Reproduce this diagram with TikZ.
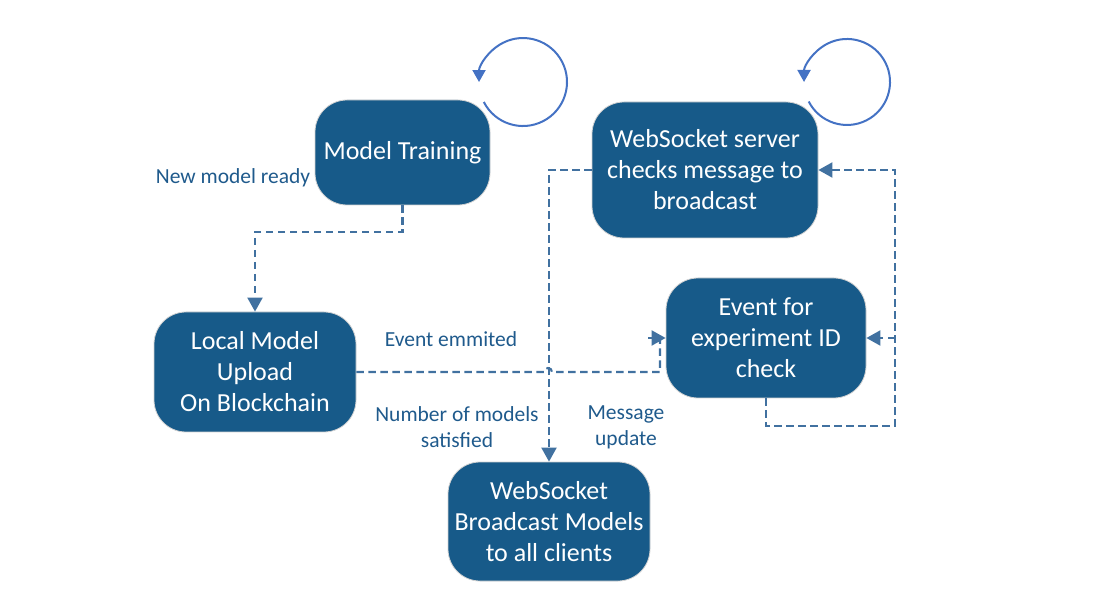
\documentclass[tikz,border=0pt]{standalone}
\usepackage{fontspec}
\setmainfont{Carlito}
\usetikzlibrary{arrows.meta}
\definecolor{boxfill}{RGB}{23,90,137}
\definecolor{labcol}{RGB}{31,90,140}
\definecolor{dashcol}{RGB}{65,113,160}
\definecolor{loopcol}{RGB}{68,114,196}
\tikzset{
  statebox/.style={rectangle, rounded corners=32pt, fill=boxfill, draw=gray!35, line width=0.8pt,
    text=white, align=center, inner sep=0pt, font=\fontsize{26}{31}\selectfont},
  lab/.style={text=labcol, align=center, inner sep=0pt, font=\fontsize{21.5}{26}\selectfont},
  conn/.style={draw=dashcol, line width=2.1pt, dash pattern=on 7.5pt off 4.5pt},
  tip/.style={-{Triangle[length=14pt,width=15pt]}},
  selfloop/.style={draw=loopcol, line width=2pt, -{Triangle[length=12pt,width=13pt]}}
}
\begin{document}
\begin{tikzpicture}[x=1pt,y=1pt]
\useasboundingbox (0,0) rectangle (1097,608);
% nodes
\node[statebox, minimum width=175pt, minimum height=105pt] (train) at (402.5,455.5) {Model Training};
\node[statebox, minimum width=226pt, minimum height=136pt] (server) at (705,438) {WebSocket server\\checks message to\\broadcast};
\node[statebox, minimum width=202pt, minimum height=120pt] (local) at (255,236) {Local Model\\Upload\\On Blockchain};
\node[statebox, minimum width=200pt, minimum height=120pt] (event) at (766,270) {Event for\\experiment ID\\check};
\node[statebox, minimum width=202pt, minimum height=119pt] (bcast) at (549,86.5) {WebSocket\\Broadcast Models\\to all clients};
% labels
\node[lab] (l1) at (233,430) {New model ready};
\node[lab] (l2) at (451,269) {Event emmited};
\node[lab] (l3) at (457,181) {Number of models\\satisfied};
\node[lab] (l4) at (626,181) {Message\\update};
% self loops
\coordinate (ls) at (483.8,506);
\coordinate (rs) at (808.7,506.5);
\draw[selfloop] (ls) arc[start angle=207, end angle=540, radius=44];
\draw[selfloop] (rs) arc[start angle=207, end angle=540, radius=43];
% connectors
\draw[conn, tip] (train.south) -- (402.5,376) -| (local.north);
\coordinate (hopa) at (544,236);
\coordinate (corner1) at (660,236);
\coordinate (corner2) at (660,270);
\coordinate (c2a) at (648,270);
\draw[conn] (local.east) -- (hopa) arc[start angle=180, end angle=0, radius=4] -- (corner1) -- (corner2);
\draw[draw=dashcol, line width=2.1pt, tip] (c2a) -- (event.west);
\draw[conn, tip] (server.west) -| (bcast.north);
\coordinate (br) at (895,182);
\coordinate (rt) at (895,438);
\coordinate (rm) at (895,270);
\draw[conn, tip] (event.south) |- (br) -- (rt) -- (server.east);
\draw[conn, tip] (rm) -- (event.east);
\end{tikzpicture}
\end{document}
